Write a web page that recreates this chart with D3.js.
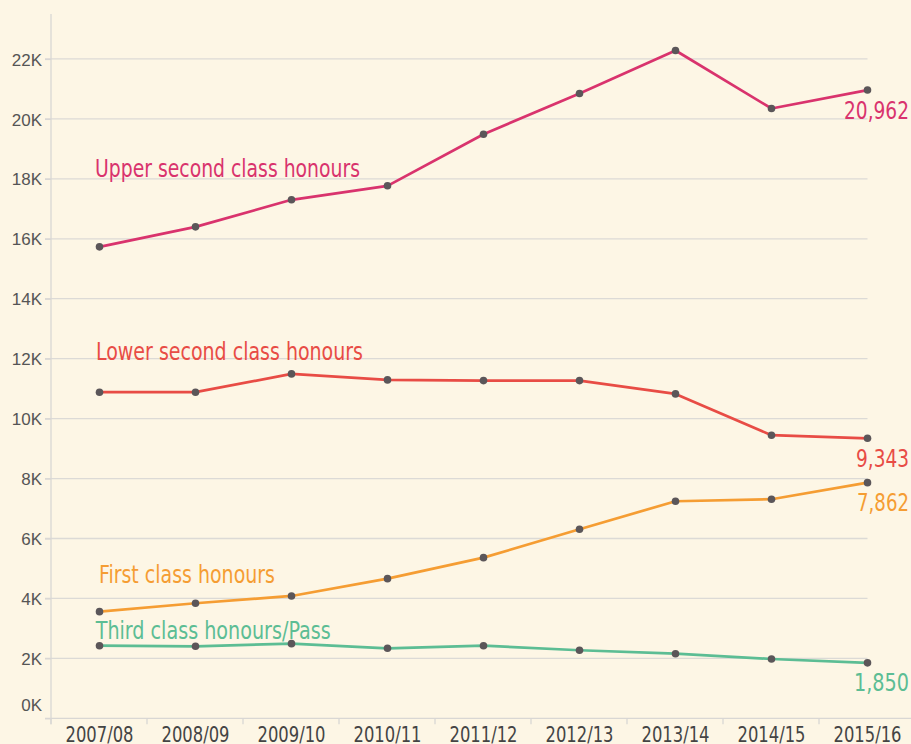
<!DOCTYPE html>
<html>
<head>
<meta charset="utf-8">
<script src="https://cdn.jsdelivr.net/npm/d3@7"></script>
<style>
  html, body { margin: 0; padding: 0; background: #fdf6e5; }
  svg { display: block; }
</style>
</head>
<body>
<svg id="chart" width="911" height="744"></svg>
<script>
// ---- data ----
const years = ["2007/08","2008/09","2009/10","2010/11","2011/12","2012/13","2013/14","2014/15","2015/16"];
const upperSecond = [15731, 16398, 17300, 17767, 19489, 20848, 22283, 20347, 20962];
const lowerSecond = [10881, 10881, 11492, 11292, 11268, 11268, 10824, 9446, 9343];
const firstClass  = [3558, 3838, 4082, 4660, 5360, 6308, 7243, 7310, 7862];
const thirdClass  = [2423, 2403, 2490, 2336, 2423, 2270, 2156, 1979, 1850];
const seriesNames = ["Upper second class honours","Lower second class honours","First class honours","Third class honours/Pass"];
const yTicks = [0,2000,4000,6000,8000,10000,12000,14000,16000,18000,20000,22000];

// ---- styles / layout ----
const colors = ["#d9336d", "#e84c45", "#f59d33", "#5cbd94"];
const labelLayout = [
  {dx: -4.5, dy: -70.3, len: 265, endLen: 65},
  {dx: -3.5, dy: -32.3, len: 267, endLen: 53},
  {dx: -0.5, dy: -28.4, len: 176, endLen: 52},
  {dx: -3.8, dy: -6.4,  len: 235, endLen: 55}
];
const condensed = "'Liberation Sans Narrow', 'Arial Narrow', 'DejaVu Sans Condensed', sans-serif";

const series = seriesNames.map((n, i) => ({
  name: n,
  values: [upperSecond, lowerSecond, firstClass, thirdClass][i],
  color: colors[i],
  layout: labelLayout[i]
}));

const svg = d3.select("#chart");
const x = d3.scaleBand().domain(years).range([51.5, 915.5]).padding(0);
const y = d3.scaleLinear().domain([0, 23500]).range([718.3, 14]);
const cx = d => x(d) + x.bandwidth() / 2;
const gridRight = cx(years[years.length - 1]);

// gridlines
svg.append("g")
  .selectAll("line")
  .data(yTicks.filter(t => t > 0))
  .join("line")
  .attr("x1", 45).attr("x2", gridRight)
  .attr("y1", d => y(d)).attr("y2", d => y(d))
  .attr("stroke", "#dcdad6").attr("stroke-width", 1.3);

// y axis
const yAxis = svg.append("g")
  .attr("transform", `translate(${x.range()[0] - 0.5},0)`)
  .call(d3.axisLeft(y).tickValues(yTicks).tickSize(6).tickPadding(3)
        .tickFormat(d => (d / 1000) + "K"));
yAxis.select(".domain").remove();
yAxis.selectAll(".tick line").attr("stroke", "#d9d7d4").attr("stroke-width", 1.3);
yAxis.selectAll(".tick text")
  .attr("fill", "#555")
  .style("font-family", "'Liberation Sans', Arial, sans-serif")
  .style("font-size", "17px")
  .attr("dy", d => d === 0 ? "-0.48em" : "0.36em");
// y axis line
svg.append("line")
  .attr("x1", x.range()[0] - 0.5).attr("x2", x.range()[0] - 0.5)
  .attr("y1", y.range()[1]).attr("y2", y(0) + 6)
  .attr("stroke", "#d9d7d4").attr("stroke-width", 1.3);

// x axis
const xAxisG = svg.append("g").attr("transform", `translate(0,${y(0)})`);
xAxisG.append("line")
  .attr("x1", 45).attr("x2", 911).attr("y1", 0).attr("y2", 0)
  .attr("stroke", "#d9d7d4").attr("stroke-width", 1.3);
xAxisG.selectAll(".xtick")
  .data(years)
  .join("line")
  .attr("class", "xtick")
  .attr("x1", d => x(d) - 0.5).attr("x2", d => x(d) - 0.5)
  .attr("y1", 0).attr("y2", 6)
  .attr("stroke", "#d9d7d4").attr("stroke-width", 1.3);
xAxisG.selectAll(".xlabel")
  .data(years)
  .join("text")
  .attr("class", "xlabel")
  .attr("x", d => cx(d))
  .attr("y", 23.5)
  .attr("text-anchor", "middle")
  .attr("fill", "#444")
  .attr("textLength", 68)
  .attr("lengthAdjust", "spacingAndGlyphs")
  .style("font-family", condensed)
  .style("font-size", "20.5px")
  .text(d => d);

// lines
const line = d3.line().x((d, i) => cx(years[i])).y(d => y(d));
const sg = svg.append("g").selectAll("g").data(series).join("g");
sg.append("path")
  .attr("d", d => line(d.values))
  .attr("fill", "none")
  .attr("stroke", d => d.color)
  .attr("stroke-width", 2.7)
  .attr("stroke-linejoin", "round");

// series name labels
sg.append("text")
  .attr("x", d => cx(years[0]) + d.layout.dx)
  .attr("y", d => y(d.values[0]) + d.layout.dy)
  .attr("fill", d => d.color)
  .attr("textLength", d => d.layout.len)
  .attr("lengthAdjust", "spacingAndGlyphs")
  .style("font-family", condensed)
  .style("font-size", "24.5px")
  .text(d => d.name);

// end value labels
sg.append("text")
  .attr("x", 909)
  .attr("y", d => y(d.values[d.values.length - 1]) + 28.5)
  .attr("text-anchor", "end")
  .attr("fill", d => d.color)
  .attr("textLength", d => d.layout.endLen)
  .attr("lengthAdjust", "spacingAndGlyphs")
  .style("font-family", condensed)
  .style("font-size", "24.5px")
  .text(d => d3.format(",")(d.values[d.values.length - 1]));

// points
sg.selectAll("circle")
  .data(d => d.values)
  .join("circle")
  .attr("cx", (d, i) => cx(years[i]))
  .attr("cy", d => y(d))
  .attr("r", 3.8)
  .attr("fill", "#5b5659");
</script>
</body>
</html>
